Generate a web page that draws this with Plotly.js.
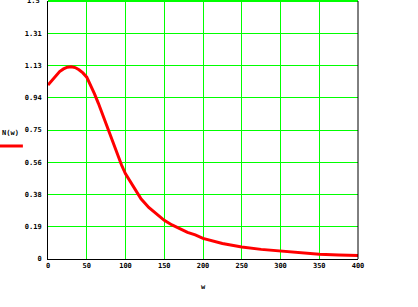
<!DOCTYPE html>
<html><head><meta charset="utf-8">
<script src="https://cdn.plot.ly/plotly-3.0.1.min.js"></script>
<style>html,body{margin:0;padding:0;background:#fff}#c{width:418px;height:307px}</style>
</head><body><div id="c"></div>
<script>
const wValues = [0, 5, 10, 15, 20, 25, 30, 35, 40, 45, 50, 55, 60, 65, 70, 75, 80, 85, 90, 95, 100, 110, 120, 130, 140, 150, 160, 170, 180, 190, 200, 225, 250, 275, 300, 325, 350, 375, 400];
const nValues = [1.012, 1.04, 1.065, 1.09, 1.105, 1.115, 1.118, 1.113, 1.10, 1.082, 1.057, 1.01, 0.96, 0.905, 0.845, 0.78, 0.715, 0.66, 0.60, 0.545, 0.495, 0.42, 0.35, 0.30, 0.26, 0.225, 0.198, 0.175, 0.155, 0.14, 0.12, 0.09, 0.07, 0.056, 0.046, 0.036, 0.028, 0.023, 0.02];
const yTickVals = [0, 0.1875, 0.375, 0.5625, 0.75, 0.9375, 1.125, 1.3125, 1.5];
const yTickText = ["0", "0.19", "0.38", "0.56", "0.75", "0.94", "1.13", "1.31", "1.5"];
const xTickVals = [0, 50, 100, 150, 200, 250, 300, 350, 400];
const seriesName = "N(w)";
const xTitle = "w";

const font = {family: "DejaVu Sans Mono", size: 7, color: "#000", weight: "bold"};
Plotly.newPlot("c", [{
  x: wValues, y: nValues, type: "scatter", mode: "lines",
  line: {color: "#ff0000", width: 3}, showlegend: false
}], {
  width: 418, height: 307,
  margin: {l: 48, r: 60, t: 1, b: 48},
  paper_bgcolor: "#fff", plot_bgcolor: "#fff",
  font: font,
  xaxis: {range: [0, 400], tickvals: xTickVals, showgrid: true, gridcolor: "#00ff00", gridwidth: 1,
          showline: true, linecolor: "#000", linewidth: 1, zeroline: false, ticks: "",
          title: {text: xTitle, font: font, standoff: 14}, tickfont: font, fixedrange: true},
  yaxis: {range: [0, 1.5], tickvals: yTickVals, ticktext: yTickText, showgrid: true, gridcolor: "#00ff00", gridwidth: 1,
          showline: true, linecolor: "#000", linewidth: 1, zeroline: false, ticks: "", ticklabelstandoff: 4,
          tickfont: font, fixedrange: true},
  shapes: [
    {type: "line", xref: "paper", yref: "paper", x0: 0, x1: 1, y0: 1, y1: 1, line: {color: "#00ff00", width: 2}},
    {type: "line", xref: "paper", yref: "paper", x0: 1, x1: 1, y0: 0, y1: 1, line: {color: "#000", width: 1}},
    {type: "line", xref: "paper", yref: "paper", x0: -0.155, x1: -0.081, y0: 0.438, y1: 0.438, line: {color: "#ff0000", width: 3}}
  ],
  annotations: [
    {text: seriesName, xref: "paper", yref: "paper", x: -0.152, y: 0.49, xanchor: "left", showarrow: false, borderpad: 0, font: font},
    {text: yTickText[yTickText.length - 1], xref: "paper", yref: "paper", x: -0.02, y: 1, xanchor: "right", yanchor: "middle", showarrow: false, font: font}
  ]
}, {staticPlot: true});
</script></body></html>
